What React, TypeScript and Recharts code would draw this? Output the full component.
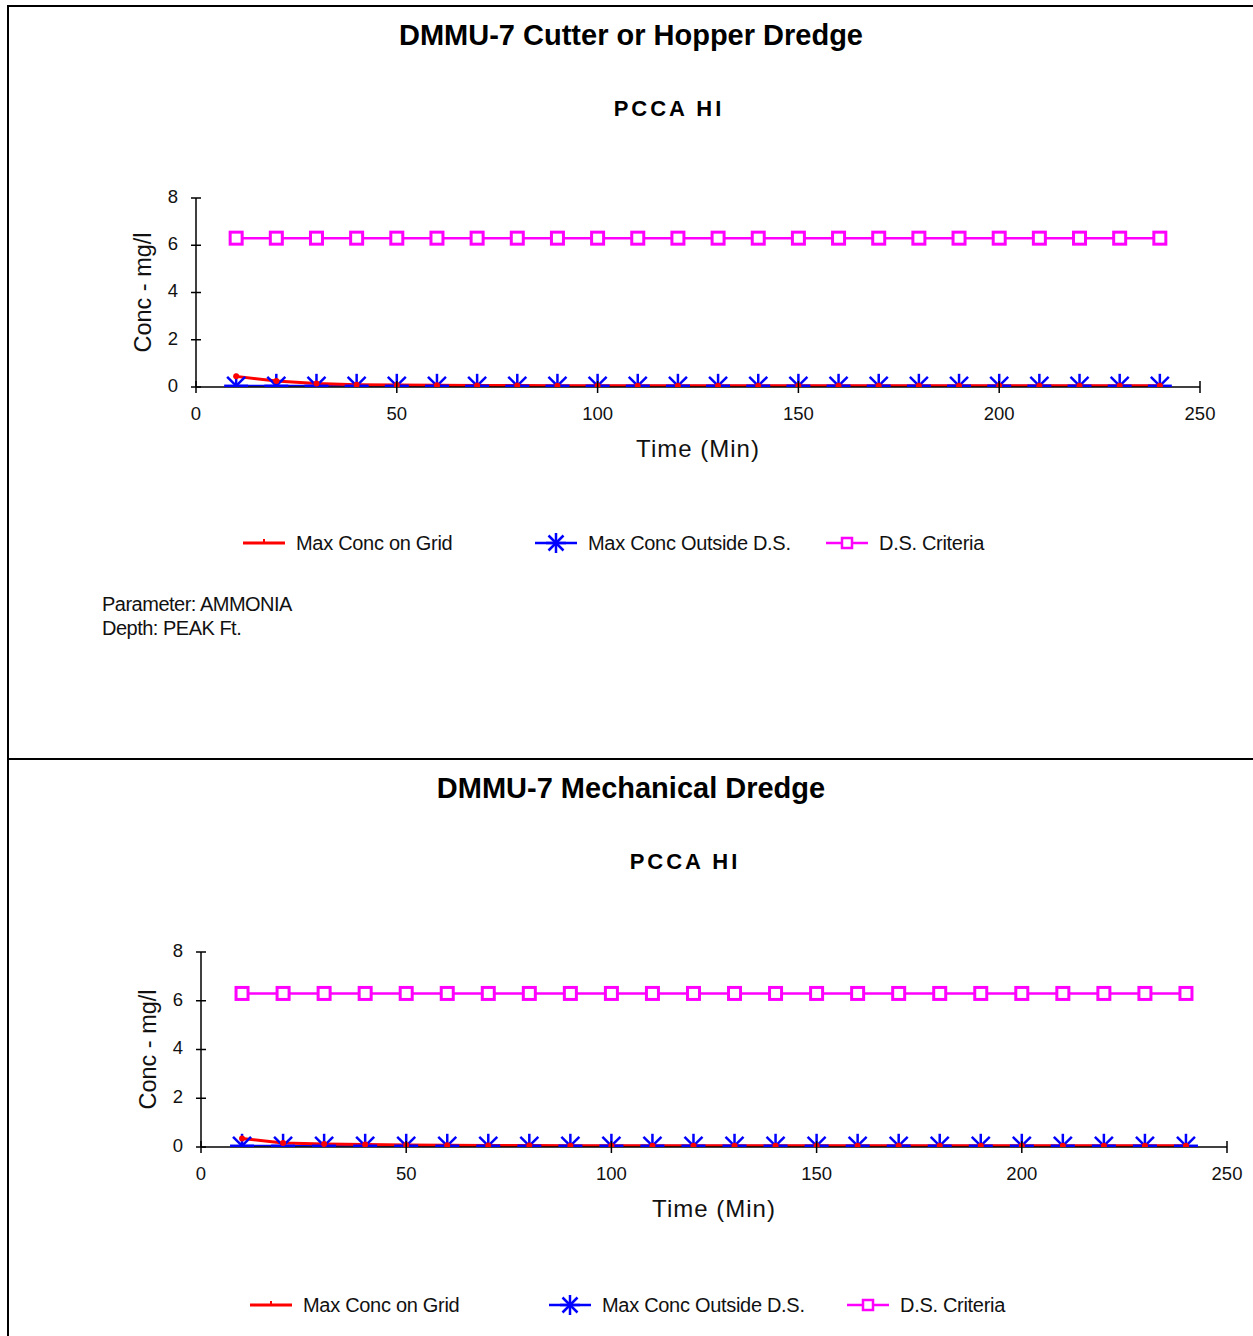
import { LineChart, Line, XAxis, YAxis } from 'recharts'

const times = [10, 20, 30, 40, 50, 60, 70, 80, 90, 100, 110, 120, 130, 140, 150, 160, 170, 180, 190, 200, 210, 220, 230, 240]

const gridCutter = [0.45, 0.25, 0.15, 0.1, 0.08, 0.07, 0.06, 0.06, 0.05, 0.05, 0.05, 0.05, 0.05, 0.05, 0.05, 0.05, 0.05, 0.05, 0.05, 0.05, 0.05, 0.05, 0.05, 0.05]
const outsideCutter = [0.05, 0.05, 0.05, 0.05, 0.05, 0.05, 0.05, 0.05, 0.05, 0.05, 0.05, 0.05, 0.05, 0.05, 0.05, 0.05, 0.05, 0.05, 0.05, 0.05, 0.05, 0.05, 0.05, 0.05]
const criteriaCutter = [6.3, 6.3, 6.3, 6.3, 6.3, 6.3, 6.3, 6.3, 6.3, 6.3, 6.3, 6.3, 6.3, 6.3, 6.3, 6.3, 6.3, 6.3, 6.3, 6.3, 6.3, 6.3, 6.3, 6.3]

const gridMech = [0.35, 0.16, 0.12, 0.1, 0.08, 0.07, 0.06, 0.06, 0.05, 0.05, 0.05, 0.05, 0.05, 0.05, 0.05, 0.05, 0.05, 0.05, 0.05, 0.05, 0.05, 0.05, 0.05, 0.05]
const outsideMech = [0.05, 0.05, 0.05, 0.05, 0.05, 0.05, 0.05, 0.05, 0.05, 0.05, 0.05, 0.05, 0.05, 0.05, 0.05, 0.05, 0.05, 0.05, 0.05, 0.05, 0.05, 0.05, 0.05, 0.05]
const criteriaMech = [6.3, 6.3, 6.3, 6.3, 6.3, 6.3, 6.3, 6.3, 6.3, 6.3, 6.3, 6.3, 6.3, 6.3, 6.3, 6.3, 6.3, 6.3, 6.3, 6.3, 6.3, 6.3, 6.3, 6.3]

const xTicks = [0, 50, 100, 150, 200, 250]
const yTicks = [0, 2, 4, 6, 8]

const seriesNames = ['Max Conc on Grid', 'Max Conc Outside D.S.', 'D.S. Criteria']

const RED = '#ff0000'
const BLUE = '#0000ff'
const MAGENTA = '#ff00ff'
const FONT = 'Arial, "Liberation Sans", sans-serif'

const buildRows = (grid: number[], outside: number[], criteria: number[]) =>
  times.map((t, i) => ({ t, grid: grid[i], outside: outside[i], criteria: criteria[i] }))

const Star = (props: any) => {
  const { cx, cy } = props
  if (cx == null || cy == null) return null
  const r = props.size ?? 12
  const d = r * 0.75
  return (
    <g stroke={BLUE} strokeWidth={2.5}>
      <line x1={cx - r} y1={cy} x2={cx + r} y2={cy} />
      <line x1={cx} y1={cy - r} x2={cx} y2={cy + r} />
      <line x1={cx - d} y1={cy - d} x2={cx + d} y2={cy + d} />
      <line x1={cx - d} y1={cy + d} x2={cx + d} y2={cy - d} />
    </g>
  )
}

const Square = (props: any) => {
  const { cx, cy } = props
  if (cx == null || cy == null) return null
  return <rect x={cx - 6} y={cy - 6} width={12} height={12} fill='#fff' stroke={MAGENTA} strokeWidth={3} />
}

const RedDot = (props: any) => {
  const { cx, cy } = props
  if (cx == null || cy == null) return null
  return <circle cx={cx} cy={cy} r={3} fill={RED} />
}

const XTick = (props: any) => {
  const { x, y, payload } = props
  return (
    <g>
      <line x1={x} y1={y - 6} x2={x} y2={y + 6} stroke='#000' strokeWidth={1.5} />
      <text x={x} y={y + 28} textAnchor='middle' dominantBaseline='middle' fontSize={18.5} fontFamily={FONT} fill='#111'>
        {payload.value}
      </text>
    </g>
  )
}

const YTick = (props: any) => {
  const { x, y, payload } = props
  return (
    <g>
      <line x1={x - 5} y1={y} x2={x + 5} y2={y} stroke='#000' strokeWidth={1.5} />
      <text x={x - 23} y={y} textAnchor='middle' dominantBaseline='middle' fontSize={18.5} fontFamily={FONT} fill='#111'>
        {payload.value}
      </text>
    </g>
  )
}

const LegendRow = ({ left, top, gaps }: { left: number; top: number; gaps: number[] }) => {
  const icons = [
    <svg width={44} height={26}>
      <line x1={0} y1={13} x2={42} y2={13} stroke={RED} strokeWidth={3} />
      <line x1={21} y1={9} x2={21} y2={13} stroke={RED} strokeWidth={2} />
    </svg>,
    <svg width={44} height={26}>
      <line x1={0} y1={13} x2={42} y2={13} stroke={BLUE} strokeWidth={2.5} />
      <Star cx={21} cy={13} size={10} />
    </svg>,
    <svg width={44} height={26}>
      <line x1={0} y1={13} x2={42} y2={13} stroke={MAGENTA} strokeWidth={2.5} />
      <rect x={16} y={8} width={10} height={10} fill='#fff' stroke={MAGENTA} strokeWidth={2.5} />
    </svg>,
  ]
  return (
    <div style={{ position: 'absolute', left, top, height: 26 }}>
      {seriesNames.map((name, i) => (
        <div key={name} style={{ position: 'absolute', left: gaps[i], top: 0, display: 'flex', alignItems: 'center', whiteSpace: 'nowrap' }}>
          {icons[i]}
          <span style={{ marginLeft: 9, fontSize: 20, fontFamily: FONT, letterSpacing: -0.3, color: '#111' }}>{name}</span>
        </div>
      ))}
    </div>
  )
}

interface PanelProps {
  top: number
  height: number
  title: string
  rows: any[]
  margin: { top: number; right: number; bottom: number; left: number }
  titleY: number
  subY: number
  subX: number
}

const Panel = ({ top, height, title, rows, margin, titleY, subY, subX }: PanelProps) => (
  <div style={{ position: 'absolute', left: 0, top, width: 1253, height }}>
    <div style={{ position: 'absolute', left: 0, width: 1262, top: titleY - 17, textAlign: 'center', fontFamily: FONT, fontWeight: 'bold', fontSize: 29, lineHeight: '34px' }}>
      {title}
    </div>
    <div style={{ position: 'absolute', left: subX - 100, width: 200, top: subY - 14, textAlign: 'center', fontFamily: FONT, fontWeight: 'bold', fontSize: 22, letterSpacing: 3, lineHeight: '28px' }}>
      PCCA HI
    </div>
    <LineChart width={1253} height={height} data={rows} margin={margin} style={{ position: 'absolute', left: 0, top: 0 }}>
      <XAxis
        dataKey='t'
        type='number'
        domain={[0, 250]}
        ticks={xTicks}
        height={40}
        stroke='#000'
        strokeWidth={1.5}
        tickLine={false}
        tickSize={0}
        tickMargin={0}
        tick={<XTick />}
        interval={0}
        label={({ viewBox }: any) => (
          <text x={viewBox.x + viewBox.width / 2} y={viewBox.y + 64} textAnchor='middle' dominantBaseline='middle' fontSize={24} letterSpacing={1} fontFamily={FONT} fill='#111'>
            Time (Min)
          </text>
        )}
      />
      <YAxis
        domain={[0, 8]}
        ticks={yTicks}
        width={60}
        allowDataOverflow
        stroke='#000'
        strokeWidth={1.5}
        tickLine={false}
        tickSize={0}
        tickMargin={0}
        tick={<YTick />}
        interval={0}
        label={({ viewBox }: any) => {
          const cx = viewBox.x + 9
          const cy = viewBox.y + viewBox.height / 2
          return (
            <text x={cx} y={cy} transform={`rotate(-90 ${cx} ${cy})`} textAnchor='middle' dominantBaseline='middle' fontSize={23.5} fontFamily={FONT} fill='#111'>
              Conc - mg/l
            </text>
          )
        }}
      />
      <Line dataKey='criteria' stroke={MAGENTA} strokeWidth={2.5} dot={<Square />} isAnimationActive={false} />
      <Line dataKey='outside' stroke={BLUE} strokeWidth={2} dot={<Star />} isAnimationActive={false} />
      <Line dataKey='grid' stroke={RED} strokeWidth={3} dot={<RedDot />} isAnimationActive={false} />
    </LineChart>
  </div>
)

export default function App() {
  return (
    <div style={{ position: 'absolute', left: 0, top: 0, width: 1253, height: 1336, background: '#fff', overflow: 'hidden' }}>
      <Panel
        top={0}
        height={759}
        title='DMMU-7 Cutter or Hopper Dredge'
        rows={buildRows(gridCutter, outsideCutter, criteriaCutter)}
        margin={{ top: 198, right: 53, bottom: 332, left: 136 }}
        titleY={35}
        subY={109}
        subX={669}
      />
      <LegendRow left={243} top={530} gaps={[0, 292, 583]} />
      <div style={{ position: 'absolute', left: 102, top: 592, fontFamily: FONT, fontSize: 20, lineHeight: '24px', letterSpacing: -0.5, color: '#111' }}>
        <div>Parameter: AMMONIA</div>
        <div>Depth: PEAK Ft.</div>
      </div>
      <Panel
        top={760}
        height={576}
        title='DMMU-7 Mechanical Dredge'
        rows={buildRows(gridMech, outsideMech, criteriaMech)}
        margin={{ top: 192, right: 26, bottom: 149, left: 141 }}
        titleY={28}
        subY={102}
        subX={685}
      />
      <LegendRow left={250} top={1292} gaps={[0, 299, 597]} />
      <div style={{ position: 'absolute', left: 8, top: 5, width: 1260, height: 2, background: '#000' }} />
      <div style={{ position: 'absolute', left: 8, top: 758, width: 1260, height: 2, background: '#000' }} />
      <div style={{ position: 'absolute', left: 7, top: 5, width: 2, height: 1340, background: '#000' }} />
    </div>
  )
}
